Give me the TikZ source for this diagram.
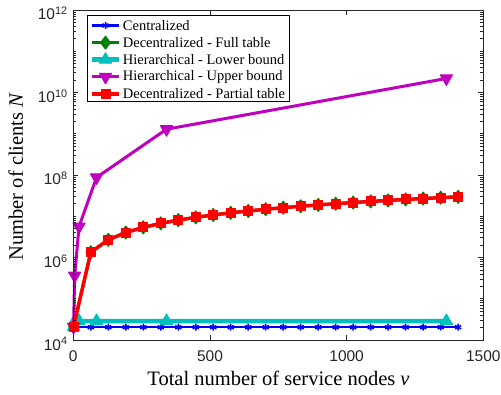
\documentclass[tikz,border=0pt]{standalone}
\usepackage{fontspec}
\setmainfont{Liberation Serif}
\newfontfamily\ticksfont{Liberation Sans}
\usetikzlibrary{plotmarks}

\definecolor{axisgray}{RGB}{38,38,38}
\definecolor{mblue}{RGB}{0,0,255}
\definecolor{mgreen}{RGB}{0,128,0}
\definecolor{mcyan}{RGB}{0,191,191}
\definecolor{mmagenta}{RGB}{191,0,191}
\definecolor{mred}{RGB}{255,0,0}

\tikzset{
  axisline/.style={draw=axisgray, line width=0.8pt},
  tickline/.style={axisgray, line width=0.7pt},
  ticklabel/.style={font=\ticksfont\fontsize{15.5}{16}\selectfont, text=axisgray, inner sep=0pt},
  axislabel/.style={font=\fontsize{20.5}{22}\selectfont, inner sep=0pt},
  legendtext/.style={font=\fontsize{14.5}{16}\selectfont, anchor=west, inner sep=0pt},
  central/.style={mblue, line width=2.5pt, line join=round, mark=asterisk, mark size=3.5pt, mark options={line width=1.5pt}},
  fulltable/.style={mgreen, line width=3pt, line join=round, mark=diamond*, mark size=6.5pt, mark options={line width=1pt}},
  lowerbound/.style={mcyan, line width=4.5pt, line join=round, mark=triangle*, mark size=7pt, mark options={line width=1pt}},
  upperbound/.style={mmagenta, line width=3pt, line join=round, mark=triangle*, mark size=7pt, mark options={line width=1pt, rotate=180}},
  partialtable/.style={mred, line width=3.5pt, line join=round, mark=square*, mark size=4.5pt, mark options={line width=1pt}},
}

\begin{document}
\begin{tikzpicture}[x=1pt, y=1pt]
    \useasboundingbox (0,0) rectangle (501,394);

    % Data (v on x, log10(N)-4 on y)
    \begin{scope}[shift={(73.3pt,54pt)}, x=0.27333pt, y=41.25pt]
        \draw[central] plot[domain=0:22, samples=23] ({max(1,64*\x)}, 0.31);
        \draw[fulltable] plot[domain=0:22, samples=23] ({max(1,64*\x)}, {0.3222+log10(max(1,64*\x))});
        \draw[lowerbound] plot coordinates {(1,0.32) (5,0.46) (21,0.46) (85,0.46) (341,0.46) (1365,0.46)};
        \draw[upperbound] plot coordinates {(1,0.32) (5,1.56) (21,2.75) (85,3.94) (341,5.11) (1365,6.34)};
        \draw[partialtable] plot[domain=0:22, samples=23] ({max(1,64*\x)}, {0.3222+log10(max(1,64*\x))});

        % Axes box
        \draw[axisline] (0,0) rectangle (1500,8);

        % x ticks
        \foreach \v in {0,500,1000,1500} {
            \draw[tickline] (\v,0) -- ++(0,5pt);
            \draw[tickline] (\v,8) -- ++(0,-5pt);
            \node[ticklabel, anchor=base] (xt\v) at (\v,0) [yshift=-21.7pt] {\v};
        }

        % y ticks (major, labelled)
        \foreach \d/\e in {0/4,2/6,4/8,6/10,8/12} {
            \draw[tickline] (0,\d) -- ++(5pt,0);
            \draw[tickline] (1500,\d) -- ++(-5pt,0);
            \node[ticklabel, anchor=base east] (yt\e) at (0,\d) [xshift=-5.5pt, yshift=-10pt] {10\textsuperscript{\e}};
        }
        % y ticks (minor)
        \foreach \d in {1,3,5,7} {
            \draw[tickline] (0,\d) -- ++(3pt,0);
            \draw[tickline] (1500,\d) -- ++(-3pt,0);
        }
        \foreach \d in {0,...,7} {
            \foreach \m in {2,...,9} {
                \draw[tickline] (0,{\d+log10(\m)}) -- ++(3pt,0);
                \draw[tickline] (1500,{\d+log10(\m)}) -- ++(-3pt,0);
            }
        }
    \end{scope}

    % Axis labels
    \node[axislabel, anchor=base] (xlabel) at (278.5,9) {Total number of service nodes \textit{v}};
    \node[axislabel, anchor=base, rotate=90] (ylabel) at (23,217.5) {Number of clients \textit{N}};

    % Legend
    \draw[black, line width=0.8pt, fill=white] (87.7,293) rectangle (289,378.3);
    \node[legendtext] (leg1) at (122.7,368.5) {Centralized};
    \node[legendtext] (leg2) at (122.7,351.4) {Decentralized - Full table};
    \node[legendtext] (leg3) at (122.7,334.3) {Hierarchical - Lower bound};
    \node[legendtext] (leg4) at (122.7,317.2) {Hierarchical - Upper bound};
    \node[legendtext] (leg5) at (122.7,300.1) {Decentralized - Partial table};

    \coordinate (s1a) at (91.7,368.5);  \coordinate (s1b) at (119.3,368.5);
    \coordinate (s2a) at (91.7,351.4);  \coordinate (s2b) at (119.3,351.4);
    \coordinate (s3a) at (91.7,334.3);  \coordinate (s3b) at (119.3,334.3);
    \coordinate (s4a) at (91.7,317.2);  \coordinate (s4b) at (119.3,317.2);
    \coordinate (s5a) at (91.7,300.1);  \coordinate (s5b) at (119.3,300.1);

    \draw[central, mark=none] (s1a) -- (s1b);
    \draw[central] plot coordinates {(105.5,368.5)};
    \draw[fulltable, mark=none] (s2a) -- (s2b);
    \draw[fulltable] plot coordinates {(105.5,351.4)};
    \draw[lowerbound, mark=none] (s3a) -- (s3b);
    \draw[lowerbound] plot coordinates {(105.5,334.3)};
    \draw[upperbound, mark=none] (s4a) -- (s4b);
    \draw[upperbound] plot coordinates {(105.5,317.2)};
    \draw[partialtable, mark=none] (s5a) -- (s5b);
    \draw[partialtable] plot coordinates {(105.5,300.1)};
\end{tikzpicture}
\end{document}
